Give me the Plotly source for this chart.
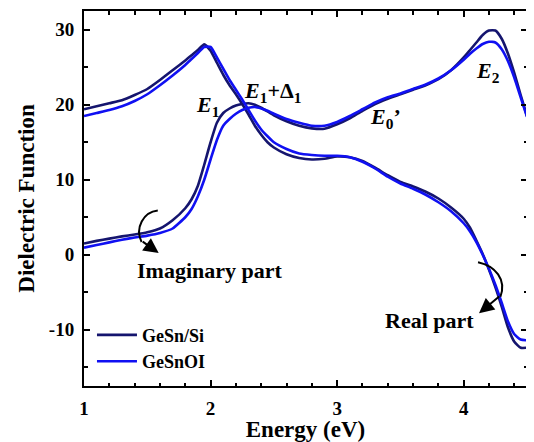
import plotly.graph_objects as go

energy = [1.0, 1.1, 1.2, 1.3, 1.4, 1.5, 1.6, 1.7, 1.8, 1.85, 1.9, 1.95, 2.0, 2.05, 2.1, 2.15,
          2.2, 2.25, 2.3, 2.35, 2.4, 2.45, 2.5, 2.6, 2.7, 2.8, 2.9, 3.0, 3.1, 3.2, 3.3, 3.4,
          3.5, 3.6, 3.7, 3.8, 3.9, 4.0, 4.05, 4.1, 4.15, 4.2, 4.25, 4.3, 4.35, 4.4, 4.45, 4.5]

real_gesn_si = [19.4, 19.8, 20.2, 20.6, 21.3, 22.1, 23.3, 24.6, 25.9, 26.6, 27.3, 28.05, 27.2, 25.6, 24.0, 22.6,
                21.4, 20.1, 18.7, 17.2, 16.0, 15.0, 14.3, 13.4, 12.9, 12.7, 12.8, 13.1, 13.0, 12.5, 11.6, 10.6,
                9.7, 9.1, 8.4, 7.5, 6.3, 4.8, 3.6, 1.9, 0.1, -2.0, -4.3, -6.9, -9.7, -11.6, -12.4, -12.4]

real_gesnoi = [18.5, 18.9, 19.3, 19.8, 20.5, 21.4, 22.6, 23.9, 25.3, 26.1, 26.9, 27.7, 27.7, 26.3, 24.8, 23.3,
               22.0, 20.7, 19.3, 17.9, 16.7, 15.8, 15.0, 14.1, 13.5, 13.3, 13.2, 13.2, 13.0, 12.4, 11.5, 10.4,
               9.5, 8.8, 8.0, 7.0, 5.8, 4.2, 3.1, 1.7, 0.0, -1.9, -4.0, -6.4, -8.9, -10.6, -11.3, -11.4]

imag_gesn_si = [1.5, 1.85, 2.15, 2.45, 2.7, 3.0, 3.5, 4.6, 6.2, 7.4, 9.2, 12.0, 15.0, 17.6, 18.9, 19.5,
                19.9, 20.1, 20.2, 20.0, 19.6, 19.1, 18.6, 17.8, 17.2, 16.85, 16.8, 17.4, 18.2, 19.2, 20.1, 20.8,
                21.4, 22.0, 22.6, 23.4, 24.6, 26.3, 27.3, 28.3, 29.3, 29.9, 29.9, 28.8, 26.8, 24.2, 21.3, 18.5]

imag_gesnoi = [0.95, 1.3, 1.65, 2.0, 2.3, 2.55, 2.9, 3.5, 5.0, 6.1, 7.8, 10.0, 12.7, 15.3, 17.2, 18.1,
               18.8, 19.3, 19.6, 19.7, 19.5, 19.2, 18.8, 18.1, 17.6, 17.2, 17.2, 17.7, 18.5, 19.4, 20.3, 21.0,
               21.5, 22.1, 22.7, 23.5, 24.6, 26.0, 26.8, 27.5, 28.1, 28.4, 28.3, 27.4, 25.8, 23.6, 21.0, 18.4]

series_names = ["GeSn/Si", "GeSnOI"]
series_colors = ["#15156e", "#1010f2"]

x_tickvals = [1, 2, 3, 4]
x_ticktext = ["1", "2", "3", "4"]
y_tickvals = [-10, 0, 10, 20, 30]
y_ticktext = ["-10", "0", "10", "20", "30"]

FONT = "Liberation Serif"

fig = go.Figure()
for name, color, re_vals, im_vals in [
    (series_names[0], series_colors[0], real_gesn_si, imag_gesn_si),
    (series_names[1], series_colors[1], real_gesnoi, imag_gesnoi),
]:
    fig.add_trace(go.Scatter(x=energy, y=re_vals, mode="lines", name=name, legendgroup=name,
                             line=dict(color=color, width=2.6, shape="spline", smoothing=0.5),
                             showlegend=True))
    fig.add_trace(go.Scatter(x=energy, y=im_vals, mode="lines", name=name, legendgroup=name,
                             line=dict(color=color, width=2.6, shape="spline", smoothing=0.5),
                             showlegend=False))

axis_common = dict(
    showline=True, linewidth=2, linecolor="black", mirror="allticks",
    ticks="inside", ticklen=6, tickwidth=1.5, tickcolor="black",
    showgrid=False, zeroline=False, automargin=False,
    tickfont=dict(family=FONT, size=19, color="black", weight="bold"),
)

fig.update_xaxes(range=[1, 4.5], tickmode="array", tickvals=x_tickvals, ticktext=x_ticktext,
                 minor=dict(dtick=0.2, tick0=1, ticks="inside", ticklen=3.5, tickwidth=1.5, tickcolor="black"),
                 title=dict(text="Energy (eV)", font=dict(family=FONT, size=23, color="black", weight="bold"),
                            standoff=4),
                 ticklabelstandoff=4,
                 **axis_common)
fig.update_yaxes(range=[-17.5, 32.5], tickmode="array", tickvals=y_tickvals, ticktext=y_ticktext,
                 minor=dict(dtick=5, tick0=0, ticks="inside", ticklen=3.5, tickwidth=1.5, tickcolor="black"),
                 title=dict(text="Dielectric Function", font=dict(family=FONT, size=23, color="black", weight="bold"),
                            standoff=8),
                 ticklabelstandoff=4,
                 **axis_common)

lab_font = dict(family=FONT, size=22, color="black", weight="bold")
labels = [
    (1.974, 19.9, "<i>E</i><sub>1</sub>"),
    (2.488, 21.7, "<i>E</i><sub>1</sub>+Δ<sub>1</sub>"),
    (3.383, 18.2, "<i>E</i><sub>0</sub>’"),
    (4.194, 24.4, "<i>E</i><sub>2</sub>"),
    (1.993, -2.1, "Imaginary part"),
    (3.733, -8.8, "Real part"),
]
for lx, ly, txt in labels:
    fig.add_annotation(x=lx, y=ly, xref="x", yref="y", text=txt, showarrow=False,
                       xanchor="center", yanchor="middle", font=lab_font)

# curved arrows
fig.add_shape(type="path", xref="x", yref="y",
              path="M 1.583 5.9 C 1.47 5.7, 1.40 3.6, 1.455 1.7",
              line=dict(color="black", width=2))
fig.add_annotation(x=1.59, y=0.22, ax=1.452, ay=1.9, xref="x", yref="y", axref="x", ayref="y",
                   text="", showarrow=True, arrowhead=2, arrowsize=1.5, arrowwidth=2, arrowcolor="black")
fig.add_shape(type="path", xref="x", yref="y",
              path="M 4.113 -1.0 C 4.25 -1.5, 4.34 -3.3, 4.29 -5.6",
              line=dict(color="black", width=2))
fig.add_annotation(x=4.121, y=-7.8, ax=4.292, ay=-5.4, xref="x", yref="y", axref="x", ayref="y",
                   text="", showarrow=True, arrowhead=2, arrowsize=1.5, arrowwidth=2, arrowcolor="black")

# the page body has an 8px default margin, so the figure is sized to fit inside it
fig.update_layout(
    width=526, height=434,
    margin=dict(l=76, r=7, t=3, b=56, autoexpand=False),
    paper_bgcolor="white", plot_bgcolor="white",
    font=dict(family=FONT, color="black"),
    showlegend=True,
    legend=dict(x=0.018, y=0.185, xanchor="left", yanchor="top",
                bgcolor="rgba(0,0,0,0)", borderwidth=0,
                font=dict(family=FONT, size=18, color="black", weight="bold"),
                itemwidth=40, tracegroupgap=0),
)

fig.write_html("out.html")
